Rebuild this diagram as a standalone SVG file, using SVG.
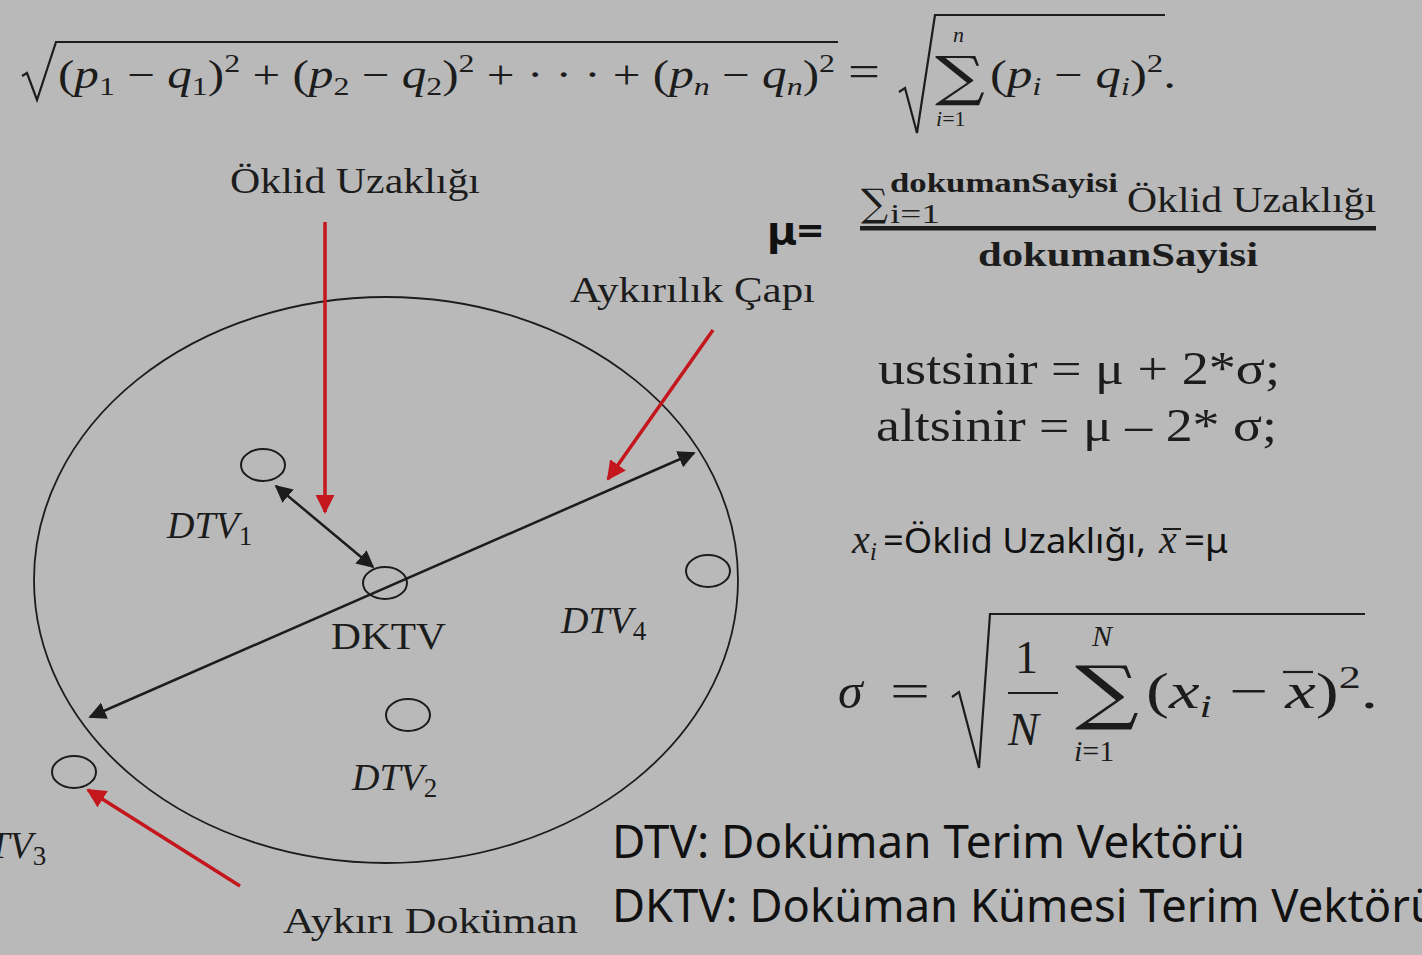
<svg xmlns="http://www.w3.org/2000/svg" width="1422" height="955" viewBox="0 0 1422 955">
<defs>
<style>
.bg{fill:#b9b9b9}
.sf{font-family:"Liberation Serif","Times New Roman",serif;fill:#1c1c1c}
.sum{font-family:"DejaVu Serif","Liberation Serif",serif;fill:#1c1c1c}
.it{font-style:italic}
.ss{font-family:"Noto Sans","Open Sans",sans-serif;fill:#111}
.bold{font-weight:bold}
.ln{fill:none;stroke:#1c1c1c;stroke-width:2.5}
.node{fill:none;stroke:#1c1c1c;stroke-width:2}
.red{fill:none;stroke:#c4161d;stroke-width:3.5}
.rad{fill:none;stroke:#1c1c1c;stroke-width:2.2;stroke-linejoin:miter}
</style>
<marker id="ab" viewBox="0 0 10 10" refX="9" refY="5" markerWidth="7" markerHeight="7" markerUnits="strokeWidth" orient="auto-start-reverse">
<path d="M0 0 L10 5 L0 10 z" fill="#1c1c1c"/>
</marker>
<marker id="ar" viewBox="0 0 10 10" refX="9" refY="5" markerWidth="5.5" markerHeight="5.5" markerUnits="strokeWidth" orient="auto">
<path d="M0 0 L10 5 L0 10 z" fill="#c4161d"/>
</marker>
</defs>
<rect class="bg" x="0" y="0" width="1422" height="955"/>

<!-- Top formula -->
<g id="formula-euclid">
<path class="rad" d="M22 76 L27 73 L37 100 L56 42 H838"/>
<text class="sf" x="58" y="88" font-size="40" textLength="777" lengthAdjust="spacingAndGlyphs">(<tspan class="it">p</tspan><tspan font-size="26" dy="7">1</tspan><tspan dy="-7"> − </tspan><tspan class="it">q</tspan><tspan font-size="26" dy="7">1</tspan><tspan dy="-7">)</tspan><tspan font-size="26" dy="-16">2</tspan><tspan dy="16"> + (</tspan><tspan class="it">p</tspan><tspan font-size="26" dy="7">2</tspan><tspan dy="-7"> − </tspan><tspan class="it">q</tspan><tspan font-size="26" dy="7">2</tspan><tspan dy="-7">)</tspan><tspan font-size="26" dy="-16">2</tspan><tspan dy="16"> + · · · + (</tspan><tspan class="it">p</tspan><tspan class="it" font-size="26" dy="7">n</tspan><tspan dy="-7"> − </tspan><tspan class="it">q</tspan><tspan class="it" font-size="26" dy="7">n</tspan><tspan dy="-7">)</tspan><tspan font-size="26" dy="-16">2</tspan></text>
<text class="sf" x="848" y="86" font-size="44" textLength="32" lengthAdjust="spacingAndGlyphs">=</text>
<path class="rad" d="M899 92 L905 88 L917 133 L935 15 H1165"/>
<text class="sum" x="935" y="95" font-size="54" textLength="50" lengthAdjust="spacingAndGlyphs">∑</text>
<text class="sf it" x="953" y="42" font-size="22">n</text>
<text class="sf" x="936" y="126" font-size="22"><tspan class="it">i</tspan>=1</text>
<text class="sf" x="990" y="88" font-size="40" textLength="186" lengthAdjust="spacingAndGlyphs">(<tspan class="it">p</tspan><tspan class="it" font-size="26" dy="7">i</tspan><tspan dy="-7"> − </tspan><tspan class="it">q</tspan><tspan class="it" font-size="26" dy="7">i</tspan><tspan dy="-7">)</tspan><tspan font-size="26" dy="-16">2</tspan><tspan dy="16">.</tspan></text>
</g>

<!-- mu formula -->
<g id="formula-mu">
<text class="ss bold" x="767" y="245" font-size="40" textLength="56" lengthAdjust="spacingAndGlyphs">μ=</text>
<rect x="860" y="226" width="516" height="4.5" fill="#1c1c1c"/>
<text class="sum" x="861" y="216" font-size="38" textLength="27" lengthAdjust="spacingAndGlyphs">∑</text>
<text class="sf bold" x="890" y="192" font-size="27" textLength="228" lengthAdjust="spacingAndGlyphs">dokumanSayisi</text>
<text class="sf" x="890" y="223" font-size="27" textLength="50" lengthAdjust="spacingAndGlyphs">i=1</text>
<text class="sf" x="1127" y="212" font-size="36" textLength="249" lengthAdjust="spacingAndGlyphs">Öklid Uzaklığı</text>
<text class="sf bold" x="978" y="266" font-size="34" textLength="280" lengthAdjust="spacingAndGlyphs">dokumanSayisi</text>
</g>

<!-- bounds -->
<g id="formula-bounds">
<text class="sf" x="878" y="384" font-size="46" textLength="402" lengthAdjust="spacingAndGlyphs">ustsinir = μ + 2*σ;</text>
<text class="sf" x="876" y="441" font-size="46" textLength="401" lengthAdjust="spacingAndGlyphs">altsinir = μ – 2* σ;</text>
</g>

<!-- xi definition -->
<g id="formula-xi">
<text class="sf it" x="852" y="553" font-size="40">x<tspan font-size="26" dy="7">i</tspan></text>
<text class="ss" x="883" y="553" font-size="35" textLength="263" lengthAdjust="spacingAndGlyphs">=Öklid Uzaklığı,</text>
<text class="sf it" x="1159" y="553" font-size="40">x</text>
<line x1="1163" y1="529" x2="1181" y2="529" stroke="#1c1c1c" stroke-width="2"/>
<text class="ss" x="1184" y="553" font-size="35" textLength="44" lengthAdjust="spacingAndGlyphs">=μ</text>
</g>

<!-- sigma formula -->
<g id="formula-sigma">
<text class="sf it" x="838" y="708" font-size="50">σ</text>
<text class="sf" x="890" y="708" font-size="50" textLength="40" lengthAdjust="spacingAndGlyphs">=</text>
<path class="rad" d="M952 697 L959 692 L979 768 L990 614 H1365"/>
<text class="sf" x="1015" y="673" font-size="46">1</text>
<line x1="1008" y1="693" x2="1058" y2="693" stroke="#1c1c1c" stroke-width="2.2"/>
<text class="sf it" x="1008" y="745" font-size="46">N</text>
<text class="sum" x="1075" y="716" font-size="70" textLength="64" lengthAdjust="spacingAndGlyphs">∑</text>
<text class="sf it" x="1092" y="646" font-size="30">N</text>
<text class="sf" x="1074" y="761" font-size="30"><tspan class="it">i</tspan>=1</text>
<text class="sf" x="1146" y="708" font-size="50" textLength="232" lengthAdjust="spacingAndGlyphs">(<tspan class="it">x</tspan><tspan class="it" font-size="32" dy="9">i</tspan><tspan dy="-9"> − </tspan><tspan class="it">x</tspan>)<tspan font-size="32" dy="-20">2</tspan><tspan dy="20">.</tspan></text>
<line x1="1283" y1="672" x2="1313" y2="672" stroke="#1c1c1c" stroke-width="2.2"/>
</g>

<!-- Main ellipse -->
<g id="cluster">
<ellipse cx="386" cy="580" rx="352" ry="283" fill="none" stroke="#1c1c1c" stroke-width="1.8"/>
</g>

<g id="node-dtv1">
<ellipse class="node" cx="263" cy="465" rx="22" ry="16"/>
<text class="sf" x="167" y="538" font-size="38"><tspan class="it">DTV</tspan><tspan font-size="27" dy="7">1</tspan></text>
</g>
<g id="node-dktv">
<ellipse class="node" cx="385" cy="583" rx="22" ry="16"/>
<text class="sf" x="331" y="649" font-size="38" textLength="115" lengthAdjust="spacingAndGlyphs">DKTV</text>
</g>
<g id="node-dtv4">
<ellipse class="node" cx="708" cy="571" rx="22" ry="16"/>
<text class="sf" x="561" y="633" font-size="38"><tspan class="it">DTV</tspan><tspan font-size="27" dy="7">4</tspan></text>
</g>
<g id="node-dtv2">
<ellipse class="node" cx="408" cy="715" rx="22" ry="16"/>
<text class="sf" x="352" y="790" font-size="38"><tspan class="it">DTV</tspan><tspan font-size="27" dy="7">2</tspan></text>
</g>
<g id="node-dtv3">
<ellipse class="node" cx="74" cy="772" rx="22" ry="16"/>
<text class="sf" x="-39" y="858" font-size="38"><tspan class="it">DTV</tspan><tspan font-size="27" dy="7">3</tspan></text>
</g>

<!-- labels -->
<g id="label-oklid"><text class="sf" x="230" y="193" font-size="36" textLength="250" lengthAdjust="spacingAndGlyphs">Öklid Uzaklığı</text></g>
<g id="label-capi"><text class="sf" x="570" y="302" font-size="36" textLength="245" lengthAdjust="spacingAndGlyphs">Aykırılık Çapı</text></g>
<g id="label-aykiri"><text class="sf" x="283" y="933" font-size="36" textLength="295" lengthAdjust="spacingAndGlyphs">Aykırı  Doküman</text></g>

<!-- connectors -->
<g id="connectors">
<line class="ln" x1="90" y1="717" x2="694" y2="453" marker-start="url(#ab)" marker-end="url(#ab)"/>
<line class="ln" x1="276" y1="486" x2="373" y2="567" marker-start="url(#ab)" marker-end="url(#ab)"/>
<line class="red" x1="325" y1="222" x2="325" y2="512" marker-end="url(#ar)"/>
<line class="red" x1="713" y1="330" x2="608" y2="479" marker-end="url(#ar)"/>
<line class="red" x1="240" y1="886" x2="88" y2="790" marker-end="url(#ar)"/>
</g>

<!-- legend -->
<g id="legend">
<text class="ss" x="612" y="858" font-size="46" textLength="633" lengthAdjust="spacingAndGlyphs">DTV: Doküman Terim Vektörü</text>
<text class="ss" x="612" y="922" font-size="46" textLength="826" lengthAdjust="spacingAndGlyphs">DKTV: Doküman Kümesi Terim Vektörü</text>
</g>
</svg>
